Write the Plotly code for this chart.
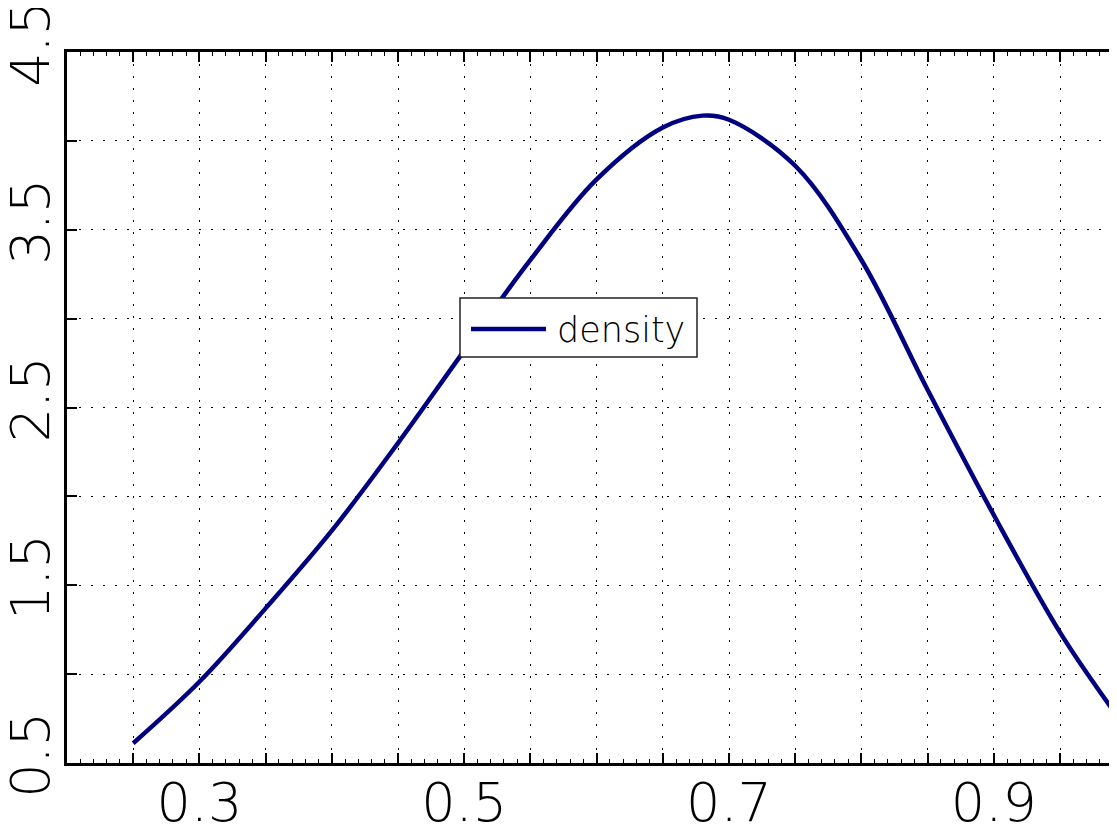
import plotly.graph_objects as go

# ---- data ----
x_vals = [0.250, 0.300, 0.350, 0.400, 0.450, 0.500, 0.550, 0.600, 0.650, 0.680,
          0.700, 0.750, 0.800, 0.850, 0.900, 0.950, 0.989]
density = [0.611, 0.957, 1.370, 1.807, 2.300, 2.820, 3.330, 3.783, 4.075, 4.142,
           4.119, 3.860, 3.330, 2.600, 1.895, 1.235, 0.808]
series_name = "density"

x_tick_vals = [0.25, 0.30, 0.35, 0.40, 0.45, 0.50, 0.55, 0.60, 0.65, 0.70, 0.75, 0.80, 0.85, 0.90, 0.95]
x_tick_text = ["", "0.3", "", "", "", "0.5", "", "", "", "0.7", "", "", "", "0.9", ""]
y_tick_vals = [0.5, 1.0, 1.5, 2.0, 2.5, 3.0, 3.5, 4.0, 4.5]
y_tick_text = ["0.5", "", "1.5", "", "2.5", "", "3.5", "", "4.5"]

# ---- layout geometry (page pixels; the page body adds an 8px offset) ----
OFF = 8
W, H = 1117 - 2 * OFF, 836 - 2 * OFF
PLOT_L, PLOT_T, PLOT_B = 67, 52, 763          # page pixels of plot area
ML, MT = PLOT_L - OFF, PLOT_T - OFF
MB = H - (PLOT_B - OFF)
MR = 0
PW, PH = W - ML - MR, H - MT - MB
PX_PER_005 = 66.2
LINE_COLOR = "#000080"
FONT = "DejaVu Sans"

def px_x(p):
    return (p - PLOT_L) / PW

def px_y(p):
    return (PLOT_B - p) / PH

fig = go.Figure()
fig.add_trace(go.Scatter(
    x=x_vals, y=density, mode="lines", name=series_name,
    line=dict(color=LINE_COLOR, width=4.5, shape="spline", smoothing=1.0),
    showlegend=False,
))

axis_common = dict(
    showline=True, linecolor="black", linewidth=3,
    ticks="inside", tickcolor="black", tickwidth=1.5, ticklen=10,
    showgrid=True, gridcolor="black", gridwidth=1, griddash="1.5px,10.5px",
    zeroline=False, automargin=False, ticklabeloverflow="allow",
    tickfont=dict(family=FONT, size=54, color="black", weight=200),
)

fig.update_xaxes(
    range=[0.2, 0.2 + 0.05 * PW / PX_PER_005], tickmode="array",
    tickvals=x_tick_vals, ticktext=x_tick_text, mirror="allticks",
    ticklabelstandoff=-10,
    minor=dict(ticks="inside", dtick=0.01, ticklen=4, tickcolor="black", tickwidth=1, showgrid=False),
    **axis_common,
)
fig.update_yaxes(
    range=[0.5, 4.5], tickmode="array",
    tickvals=y_tick_vals, ticktext=y_tick_text, tickangle=-90, mirror=False,
    ticklabelstandoff=-7,
    **axis_common,
)

# legend box drawn in paper space
fig.add_shape(type="rect", xref="paper", yref="paper",
              x0=px_x(460), x1=px_x(697), y0=px_y(357), y1=px_y(298),
              line=dict(color="#222222", width=1.5), fillcolor="white", layer="above")
fig.add_shape(type="line", xref="paper", yref="paper",
              x0=px_x(471), x1=px_x(546), y0=px_y(329), y1=px_y(329),
              line=dict(color=LINE_COLOR, width=4.5), layer="above")
fig.add_annotation(text=series_name, xref="paper", yref="paper",
                   x=px_x(555), y=px_y(330), xanchor="left", yanchor="middle",
                   showarrow=False, font=dict(family=FONT, size=35, color="black", weight=200))

fig.update_layout(
    width=W, height=H,
    margin=dict(l=ML, r=MR, t=MT, b=MB),
    paper_bgcolor="white", plot_bgcolor="white",
    showlegend=False,
)

fig.write_html("out.html")
